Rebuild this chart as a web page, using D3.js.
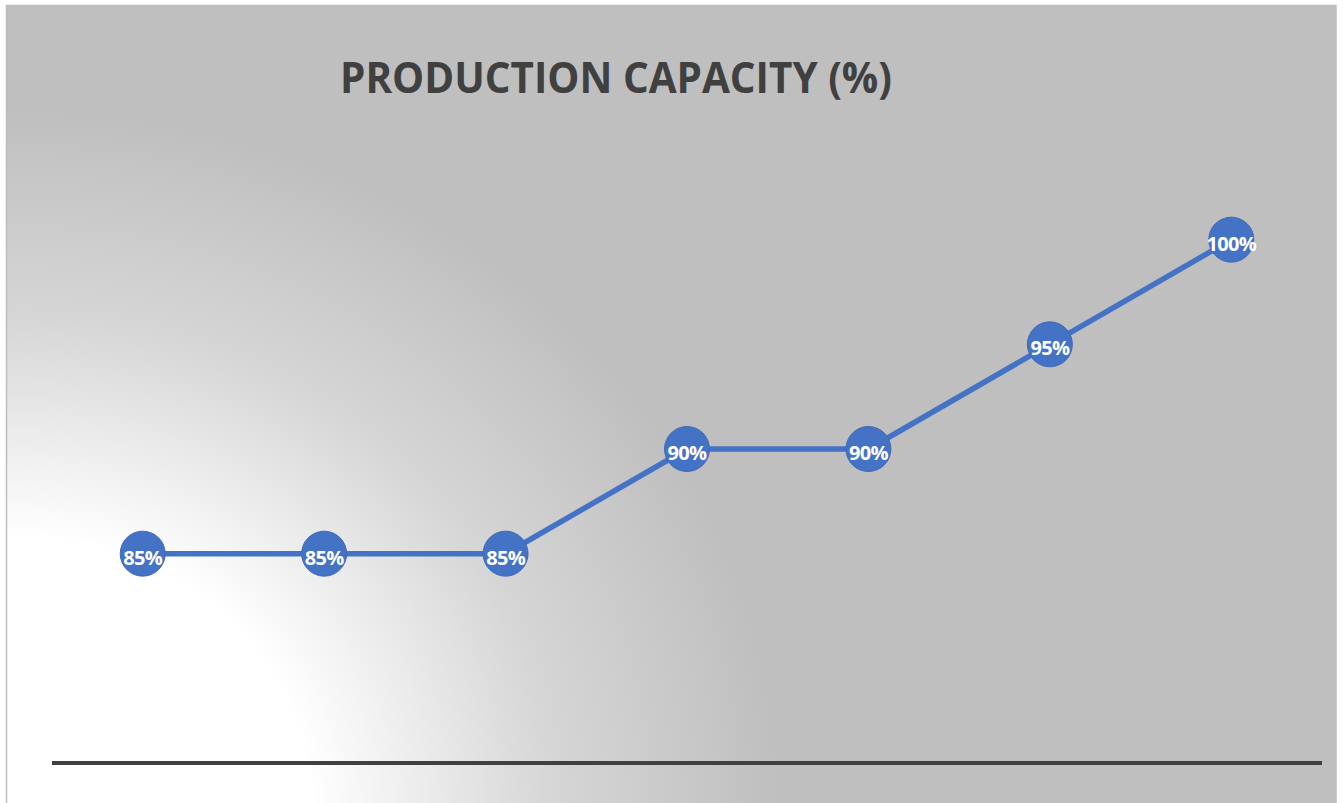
<!DOCTYPE html>
<html>
<head>
<meta charset="utf-8">
<script src="https://cdn.jsdelivr.net/npm/d3@7"></script>
<style>
	body { margin: 0; background: #ffffff; }
	svg { display: block; }
</style>
</head>
<body>
<div id="chart"></div>
<script>

// chart values
var categories = ["1", "2", "3", "4", "5", "6", "7"];
var capacity = [85, 85, 85, 90, 90, 95, 100];
var yDomain = [75, 105];
var titleText = "PRODUCTION CAPACITY (%)";


var width = 1343
var height = 803

var frame = {left: 6.5, top: 5.5, right: 1336, bottom: 803}
var plot = {left: 52, right: 1322, top: 135, bottom: 763}

var svg = d3.select("#chart").append("svg")
	.attr("width", width)
	.attr("height", height)

var defs = svg.append("defs")

// white glow from the bottom-left corner fading into gray
var grad = defs.append("radialGradient")
	.attr("id", "bgGrad")
	.attr("gradientUnits", "userSpaceOnUse")
	.attr("cx", 20)
	.attr("cy", 803)
	.attr("r", 730)
	.attr("gradientTransform", "translate(20,803) scale(1.04,0.95) translate(-20,-803)")

grad.append("stop").attr("offset", "0").attr("stop-color", "#ffffff")
grad.append("stop").attr("offset", "0.38").attr("stop-color", "#ffffff")
grad.append("stop").attr("offset", "0.7").attr("stop-color", "#d6d6d6")
grad.append("stop").attr("offset", "1").attr("stop-color", "#bfbfbf")

svg.append("rect")
	.attr("x", frame.left)
	.attr("y", frame.top)
	.attr("width", frame.right - frame.left)
	.attr("height", frame.bottom - frame.top + 2)
	.attr("fill", "url(#bgGrad)")
	.attr("stroke", "#bdbdbd")
	.attr("stroke-width", 1.5)


var x = d3.scalePoint()
	.domain(categories)
	.range([plot.left, plot.right])
	.padding(0.5)

var y = d3.scaleLinear()
	.domain(yDomain)
	.range([plot.bottom, plot.top])


// title
svg.append("text")
	.attr("x", 616)
	.attr("y", 93)
	.attr("text-anchor", "middle")
	.attr("font-family", "'Open Sans', sans-serif")
	.attr("font-weight", "bold")
	.attr("font-size", 43)
	.attr("fill", "#404040")
	.attr("textLength", 552)
	.attr("lengthAdjust", "spacingAndGlyphs")
	.text(titleText)


// category axis (no labels, no ticks)
var xAxis = d3.axisBottom(x).tickSize(0).tickFormat("")

var axisG = svg.append("g")
	.attr("transform", "translate(0," + y(yDomain[0]) + ")")
	.call(xAxis)

axisG.select(".domain")
	.attr("d", "M" + plot.left + ",0H" + plot.right)
	.attr("stroke", "#404040")
	.attr("stroke-width", 4)


// series line
var line = d3.line()
	.x(function(d, i) { return x(categories[i]) })
	.y(function(d) { return y(d) })

svg.append("path")
	.datum(capacity)
	.attr("d", line)
	.attr("fill", "none")
	.attr("stroke", "#4472c4")
	.attr("stroke-width", 5.5)
	.attr("stroke-linejoin", "round")


var points = svg.append("g")
	.selectAll("g")
	.data(capacity)
	.enter()
	.append("g")
	.attr("transform", function(d, i) { return "translate(" + x(categories[i]) + "," + y(d) + ")" })

points.append("circle")
	.attr("r", 22.5)
	.attr("fill", "#4472c4")
	.attr("stroke", "#4169b5")
	.attr("stroke-width", 1)

points.append("text")
	.attr("y", 11)
	.attr("text-anchor", "middle")
	.attr("font-family", "'Open Sans', sans-serif")
	.attr("font-weight", "bold")
	.attr("font-size", 20)
	.attr("letter-spacing", -0.7)
	.attr("fill", "#ffffff")
	.text(function(d) { return d + "%" })

</script>
</body>
</html>
